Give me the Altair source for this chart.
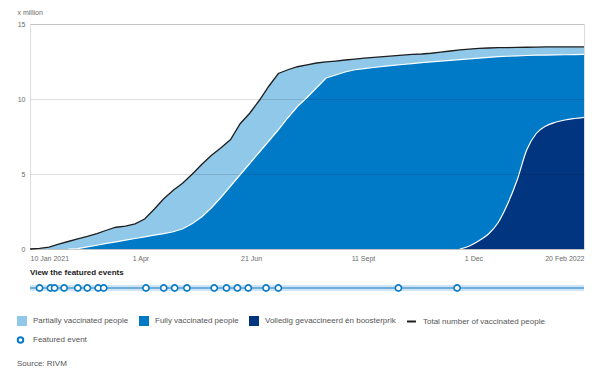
import altair as alt
import pandas as pd

# ---- data (weekly from 10 Jan 2021) ----
start_date = "2021-01-10"
n_weeks = 59

total = [0.0, 0.04, 0.13, 0.32, 0.5, 0.68, 0.84, 1.03, 1.25, 1.45,
         1.52, 1.68, 2.0, 2.65, 3.35, 3.92, 4.4, 5.0, 5.65, 6.25,
         6.75, 7.3, 8.35, 9.05, 9.9, 10.85, 11.7, 11.95, 12.15, 12.28,
         12.4, 12.47, 12.53, 12.6, 12.66, 12.72, 12.77, 12.82, 12.87, 12.93,
         12.97, 13.0, 13.05, 13.12, 13.2, 13.27, 13.33, 13.38, 13.4, 13.42,
         13.43, 13.44, 13.45, 13.46, 13.47, 13.47, 13.47, 13.47, 13.47]

fully = [0.0, 0.0, 0.0, 0.0, 0.0, 0.03, 0.14, 0.25, 0.37, 0.48,
         0.59, 0.7, 0.81, 0.92, 1.03, 1.15, 1.35, 1.7, 2.15, 2.75,
         3.45, 4.2, 4.95, 5.7, 6.45, 7.2, 7.95, 8.75, 9.5, 10.1,
         10.75, 11.4, 11.6, 11.8, 11.95, 12.03, 12.1, 12.17, 12.24, 12.3,
         12.36, 12.42, 12.47, 12.53, 12.58, 12.63, 12.68, 12.72, 12.77, 12.82,
         12.85, 12.88, 12.9, 12.92, 12.93, 12.94, 12.95, 12.96, 12.97]

booster = [0.0] * 46 + [0.2, 0.55, 1.0, 1.75, 3.0, 4.6, 6.6, 7.7, 8.2,
                        8.45, 8.6, 8.7, 8.78]

event_dates = ["2021-01-17", "2021-01-25", "2021-01-28", "2021-02-04",
               "2021-02-14", "2021-02-21", "2021-03-01", "2021-03-05",
               "2021-04-05", "2021-04-18", "2021-04-26", "2021-05-05",
               "2021-05-25", "2021-06-03", "2021-06-11", "2021-06-19",
               "2021-07-02", "2021-07-11", "2021-10-07", "2021-11-19"]

tick_dates = ["2021-01-10", "2021-04-01", "2021-06-21", "2021-09-11",
              "2021-12-01", "2022-02-20"]
tick_labels = ["10 Jan 2021", "1 Apr", "21 Jun", "11 Sept", "1 Dec", "20 Feb 2022"]

series_names = ["Partially vaccinated people", "Fully vaccinated people",
                "Volledig gevaccineerd én boosterprik"]
series_colors = ["#8fc8e8", "#0079c6", "#013580"]
total_name = "Total number of vaccinated people"
event_name = "Featured event"

# ---- tables ----
dates = pd.date_range(start_date, periods=n_weeks, freq="7D")
df = pd.DataFrame({"date": dates, "total": total, "fully": fully, "booster": booster})
df["date"] = df["date"].dt.strftime("%Y-%m-%d")
first_fully = next(i for i, v in enumerate(fully) if v > 0) - 1
first_boost = next(i for i, v in enumerate(booster) if v > 0) - 1
df_fully_line = df.iloc[first_fully:]
df_boost_line = df.iloc[first_boost:]
df_events = pd.DataFrame({"date": event_dates})
df_strip = pd.DataFrame({"start": [tick_dates[0]], "end": [tick_dates[-1]]})


def dt(s):
    y, m, d = (int(p) for p in s.split("-"))
    return alt.DateTime(year=y, month=m, date=d)


label_expr = "".join(
    f"timeFormat(datum.value, '%Y-%m-%d') == '{d}' ? '{l}' : "
    for d, l in zip(tick_dates, tick_labels)
) + "''"

FONT = "Liberation Sans"
GREY = "#6b6b6b"
BLUE = "#0b7bc5"

x_scale = alt.Scale(domain=[dt(tick_dates[0]), dt(tick_dates[-1])], nice=False)
x_axis = alt.Axis(values=[dt(d) for d in tick_dates], labelExpr=label_expr,
                  title=None, grid=False, domain=False, ticks=False,
                  labelFlush=True, labelFontSize=7, labelColor=GREY,
                  labelPadding=5, labelFont=FONT)
y_scale = alt.Scale(domain=[0, 15], nice=False)
y_axis = alt.Axis(values=[0, 5, 10, 15], title="x million", titleAngle=0,
                  titleAlign="left", titleBaseline="middle", titleX=-13, titleY=-12,
                  titleFontSize=7, titleFontWeight="normal", titleColor=GREY,
                  titleFont=FONT, domain=False, ticks=False, labelPadding=5,
                  labelFontSize=7, labelColor=GREY, labelFont=FONT,
                  gridColor="#000000", gridOpacity=0.12, gridWidth=1, zindex=1)

X = alt.X("date:T", scale=x_scale, axis=x_axis)

fill_scale = alt.Scale(domain=series_names, range=series_colors)
fill_legend = alt.Legend(orient="none", legendX=-13, legendY=292, title=None,
                         direction="horizontal", symbolType="square",
                         symbolSize=100, symbolStrokeWidth=0, labelFontSize=8,
                         labelColor="#555555", labelFont=FONT, labelOffset=6,
                         columnPadding=10)


def area(field, name, interp="linear"):
    return alt.Chart(df.assign(series=name)).mark_area(opacity=1, interpolate=interp).encode(
        x=X,
        y=alt.Y(f"{field}:Q", scale=y_scale, axis=y_axis),
        fill=alt.Fill("series:N", scale=fill_scale, legend=fill_legend),
    )


a_total = area("total", series_names[0])
a_fully = area("fully", series_names[1])
a_boost = area("booster", series_names[2], "monotone")

l_fully = alt.Chart(df_fully_line).mark_line(color="white", strokeWidth=1.2).encode(
    x=X, y=alt.Y("fully:Q", scale=y_scale, axis=y_axis))
l_boost = alt.Chart(df_boost_line).mark_line(color="white", strokeWidth=1.2,
                                              interpolate="monotone").encode(
    x=X, y=alt.Y("booster:Q", scale=y_scale, axis=y_axis))

l_total = alt.Chart(df.assign(kind=total_name)).mark_line(strokeWidth=1.3).encode(
    x=X, y=alt.Y("total:Q", scale=y_scale, axis=y_axis),
    stroke=alt.Stroke("kind:N",
                      scale=alt.Scale(domain=[total_name], range=["#1e1e1e"]),
                      legend=alt.Legend(orient="none", legendX=376, legendY=292,
                                        title=None, symbolType="stroke",
                                        symbolSize=80, symbolStrokeWidth=2,
                                        labelFontSize=8, labelColor="#555555",
                                        labelFont=FONT, labelOffset=6)))

# featured-events strip
strip_y = 264
band = alt.Chart(df_strip).mark_rule(color="#cfe4f4", strokeWidth=6).encode(
    x=alt.X("start:T", scale=x_scale, axis=x_axis), x2="end:T", y=alt.value(strip_y))
band_line = alt.Chart(df_strip).mark_rule(color=BLUE, strokeWidth=1).encode(
    x=alt.X("start:T", scale=x_scale, axis=x_axis), x2="end:T", y=alt.value(strip_y))
events = alt.Chart(df_events).mark_point(filled=True, fill="white", stroke=BLUE,
                                         strokeWidth=1.6, size=38, opacity=1,
                                         shape="circle").encode(
    x=X, y=alt.value(strip_y))

events_title = alt.Chart(pd.DataFrame({"t": ["View the featured events"]})).mark_text(
    align="left", baseline="middle", fontSize=8, fontWeight="bold", font=FONT,
    color="#1a1a1a").encode(x=alt.value(0), y=alt.value(249), text="t:N")

# legend entry for the featured events (symbol + label)
ev_key = alt.Chart(pd.DataFrame({"t": [event_name]})).mark_point(
    filled=True, fill="white", stroke=BLUE, strokeWidth=2, size=30, opacity=1,
    shape="circle").encode(x=alt.value(-9.5), y=alt.value(316))
ev_label = alt.Chart(pd.DataFrame({"t": [event_name]})).mark_text(
    align="left", baseline="middle", fontSize=8, font=FONT, color="#555555").encode(
    x=alt.value(3), y=alt.value(316), text="t:N")

source = alt.Chart(pd.DataFrame({"t": ["Source: RIVM"]})).mark_text(
    align="left", baseline="middle", fontSize=8, font=FONT, color="#555555").encode(
    x=alt.value(-13), y=alt.value(340), text="t:N")

chart = alt.layer(
    a_total, a_fully, a_boost, l_fully, l_boost, l_total,
    band, band_line, events, events_title, ev_key, ev_label, source
).properties(
    width=554, height=225, autosize="none",
    padding={"left": 22, "top": 16, "right": 8, "bottom": 118},
).configure_view(stroke=None).configure(font=FONT)

chart.save("out.html", embed_options={"renderer": "svg", "actions": False})
